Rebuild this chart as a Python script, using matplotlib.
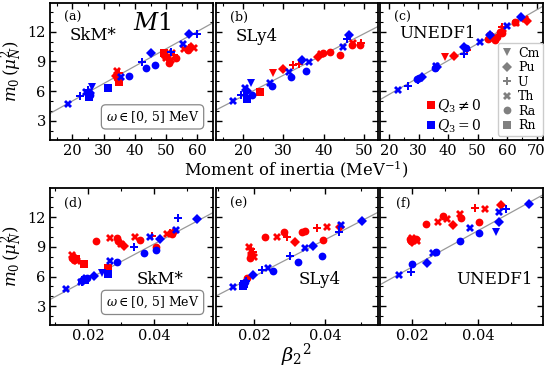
import matplotlib
matplotlib.use('Agg')
import matplotlib.pyplot as plt
from matplotlib.lines import Line2D
from matplotlib.ticker import MultipleLocator

plt.rcParams['font.family'] = ['DejaVu Serif']
plt.rcParams['mathtext.fontset'] = 'dejavuserif'

SPECIES = ['Cm', 'Pu', 'U', 'Th', 'Ra', 'Rn']
MARKERS = {'Cm': 'v', 'Pu': 'D', 'U': 'P', 'Th': 'X', 'Ra': 'o', 'Rn': 's'}
COL_OCT = '#ff0000'
COL_NOOCT = '#0000ff'

# ---------------- (a) SkM*, moment of inertia ----------------
a_x = [18.7, 22.5, 24.4, 24.9, 26.3, 25.5, 25.2, 25.7, 31.4, 35.6, 38.1, 42.2, 43.7, 45.1, 46.3, 51.5, 55.3, 57.4, 59.9,
       34.3, 34.8, 33.8, 34.3, 34.8, 33.8, 49.4, 49.9, 49.4, 51.0, 51.5, 50.4, 52.6, 53.1, 52.0, 55.8, 57.4, 58.8, 56.9, 58.1]
a_y = [4.65, 5.5, 5.93, 6.1, 6.44, 5.6, 5.43, 5.83, 6.34, 7.38, 7.52, 8.9, 8.3, 9.8, 8.63, 9.98, 10.72, 11.76, 11.76,
       8.06, 7.8, 7.5, 7.3, 6.94, 7.2, 9.64, 9.3, 9.8, 8.8, 9.14, 9.47, 9.64, 9.3, 9.87, 10.2, 10.3, 10.3, 10.15, 10.5]
a_sp = ['Th', 'U', 'Th', 'U', 'Cm', 'Ra', 'Rn', 'Pu', 'Rn', 'Th', 'Ra', 'U', 'Ra', 'Pu', 'Ra', 'U', 'Th', 'Pu', 'U',
        'Th', 'U', 'Pu', 'Ra', 'Rn', 'Cm', 'Ra', 'Th', 'Rn', 'Ra', 'Th', 'Pu', 'U', 'Ra', 'Th', 'Th', 'U', 'Th', 'Ra', 'Pu']
a_q3 = [0] * 19 + [1] * 20

# ---------------- (b) SLy4, moment of inertia ----------------
b_x = [17.5, 19.4, 20.6, 21.9, 21.0, 22.3, 21.0, 20.2, 26.6, 27.2, 31.3, 31.9, 34.6, 35.6, 36.5, 44.7, 45.9, 46.4,
       24.1, 27.5, 29.9, 32.4, 33.8, 38.7, 39.8, 39.3, 41.6, 44.1, 47.0, 47.4, 49.2, 49.0]
b_y = [5.02, 5.6, 6.27, 6.78, 6.03, 5.6, 5.16, 5.6, 6.84, 6.5, 7.96, 7.45, 9.14, 8.06, 8.9, 10.48, 11.22, 11.66,
       5.87, 7.79, 8.19, 8.63, 8.7, 9.47, 9.81, 9.7, 9.91, 9.64, 10.65, 10.89, 10.89, 10.65]
b_sp = ['Th', 'U', 'Th', 'Cm', 'Pu', 'Ra', 'Rn', 'U', 'Th', 'Ra', 'Th', 'Ra', 'Pu', 'Ra', 'Th', 'Th', 'U', 'Pu',
        'Rn', 'Cm', 'Pu', 'U', 'U', 'Pu', 'Ra', 'Th', 'Ra', 'Ra', 'Ra', 'Th', 'U', 'Ra']
b_q3 = [0] * 18 + [1] * 14

# ---------------- (c) UNEDF1, moment of inertia ----------------
c_x = [22.9, 26.5, 29.4, 30.3, 31.1, 29.9, 35.6, 36.2, 35.9, 45.5, 46.1, 45.5, 50.8, 54.2, 59.9, 64.7,
       39.0, 42.1, 46.3, 53.7, 54.9, 55.9, 54.4, 56.6, 57.6, 58.5, 58.2, 58.2, 62.7, 63.2, 66.7, 66.1]
c_y = [6.1, 6.5, 7.21, 7.28, 7.38, 7.1, 8.3, 8.46, 8.53, 10.48, 10.3, 9.74, 10.92, 11.66, 12.6, 13.45,
       9.4, 9.57, 10.15, 11.22, 11.43, 11.16, 11.56, 11.5, 12.0, 12.24, 11.83, 12.5, 13.0, 12.84, 13.1, 13.25]
c_sp = ['Th', 'U', 'Ra', 'Ra', 'Pu', 'U', 'Ra', 'Pu', 'Th', 'Pu', 'Ra', 'U', 'Th', 'Pu', 'Th', 'Pu',
        'Cm', 'Pu', 'U', 'Ra', 'Pu', 'Ra', 'Th', 'Ra', 'Ra', 'Th', 'Ra', 'U', 'Ra', 'Th', 'Pu', 'Th']
c_q3 = [0] * 16 + [1] * 16

# ---------------- (d) SkM*, beta2^2 ----------------
d_x = [0.0134, 0.0182, 0.0180, 0.0189, 0.0196, 0.0192, 0.0217, 0.0243, 0.0260, 0.0267, 0.0287, 0.0338, 0.0368,
       0.0386, 0.0417, 0.0405, 0.0464, 0.0472, 0.0528,
       0.0152, 0.0156, 0.0158, 0.0160, 0.0165, 0.0150, 0.0162, 0.0189, 0.0225, 0.0260, 0.0265, 0.0287, 0.0289,
       0.0308, 0.0300, 0.0341, 0.0356, 0.0393, 0.0405, 0.0437, 0.0448, 0.0458, 0.0452]
d_y = [4.70, 5.48, 5.40, 5.72, 5.90, 5.60, 6.06, 6.40, 6.30, 7.52, 7.49, 8.95, 8.33,
       10.03, 9.80, 8.65, 10.75, 11.90, 11.83,
       8.20, 8.00, 7.70, 7.85, 7.60, 7.90, 7.75, 7.22, 9.56, 6.90, 9.86, 9.85, 9.56,
       9.10, 9.30, 10.03, 9.69, 10.10, 9.00, 10.35, 10.45, 10.50, 10.30]
d_sp = ['Th', 'U', 'Th', 'Pu', 'Ra', 'Rn', 'Pu', 'Cm', 'Rn', 'Th', 'Ra', 'U', 'Ra',
        'Th', 'Pu', 'Ra', 'Th', 'U', 'Pu',
        'Th', 'U', 'Ra', 'Pu', 'Th', 'Ra', 'Rn', 'Rn', 'Ra', 'Rn', 'Th', 'Ra', 'Ra',
        'Pu', 'Th', 'Th', 'Ra', 'U', 'Ra', 'Th', 'U', 'Pu', 'Ra']
d_q3 = [0] * 19 + [1] * 23

# ---------------- (e) SLy4, beta2^2 ----------------
e_x = [0.0141, 0.0172, 0.0170, 0.0177, 0.0175, 0.0198, 0.0223, 0.0239, 0.0253, 0.0300, 0.0323, 0.0344, 0.0365,
       0.0391, 0.0439, 0.0444, 0.0503,
       0.0181, 0.0185, 0.0192, 0.0190, 0.0195, 0.0188, 0.0198, 0.0200, 0.0230, 0.0263, 0.0293, 0.0284, 0.0314,
       0.0335, 0.0344, 0.0377, 0.0405, 0.0393, 0.0442]
e_y = [4.97, 5.21, 5.00, 5.55, 5.40, 6.16, 6.64, 6.84, 6.57, 8.10, 7.42, 8.88, 9.10,
       8.10, 10.47, 11.25, 11.66,
       5.82, 9.00, 8.80, 8.60, 8.20, 7.90, 8.50, 8.00, 9.96, 9.96, 9.96, 10.54, 9.45,
       10.50, 10.60, 10.88, 10.98, 9.69, 11.05]
e_sp = ['Th', 'Rn', 'Rn', 'U', 'Ra', 'Pu', 'U', 'Th', 'Ra', 'U', 'Ra', 'Th', 'Pu',
        'Ra', 'U', 'Th', 'Pu',
        'Ra', 'Th', 'U', 'Th', 'Pu', 'Ra', 'U', 'Th', 'Ra', 'Th', 'U', 'Ra', 'Pu',
        'Ra', 'Ra', 'U', 'Th', 'Ra', 'Pu']
e_q3 = [0] * 17 + [1] * 19

# ---------------- (f) UNEDF1, beta2^2 ----------------
f_x = [0.0159, 0.0197, 0.0200, 0.0246, 0.0264, 0.0271, 0.0344, 0.0374, 0.0404, 0.0455, 0.0462, 0.0464, 0.0484, 0.0556,
       0.0195, 0.0200, 0.0205, 0.0198, 0.0210, 0.0215, 0.0192, 0.0241, 0.0277, 0.0294, 0.0304, 0.0325, 0.0344,
       0.0348, 0.0392, 0.0421, 0.0402, 0.0469]
f_y = [6.13, 6.50, 7.25, 7.32, 8.37, 8.50, 9.62, 10.91, 10.40, 10.47, 11.56, 12.50, 12.83, 13.36,
       9.60, 9.90, 9.75, 9.50, 9.80, 9.60, 9.80, 11.32, 11.56, 12.10, 11.83, 11.22, 12.37,
       11.93, 12.95, 12.87, 11.56, 13.19]
f_sp = ['Th', 'U', 'Ra', 'Pu', 'Th', 'Ra', 'Ra', 'Th', 'Ra', 'Cm', 'Pu', 'Th', 'U', 'Pu',
        'Ra', 'Th', 'U', 'Pu', 'Ra', 'Th', 'Ra', 'Ra', 'Th', 'Ra', 'Th', 'Pu', 'Th',
        'Ra', 'U', 'Th', 'Ra', 'Pu']
f_q3 = [0] * 14 + [1] * 18

# linear fits drawn in each panel (slope, intercept)
fit_slope = [0.1756, 0.210, 0.171, 178.5, 186.0, 183.6]
fit_icpt = [1.49, 1.29, 2.23, 2.16, 2.30, 3.30]

panel_tags = ['(a)', '(b)', '(c)', '(d)', '(e)', '(f)']
functionals = ['SkM*', 'SLy4', 'UNEDF1']
xlims = [(12.8, 65.0), (13.3, 53.5), (16.95, 72.2), (0.0085, 0.0577), (0.0093, 0.0548), (0.0102, 0.0597)]
ylim = (1.1, 14.95)

data = [(a_x, a_y, a_sp, a_q3), (b_x, b_y, b_sp, b_q3), (c_x, c_y, c_sp, c_q3),
        (d_x, d_y, d_sp, d_q3), (e_x, e_y, e_sp, e_q3), (f_x, f_y, f_sp, f_q3)]

W, H = 556, 371
fig = plt.figure(figsize=(W / 100, H / 100), dpi=100)
cols_px = [(50, 213), (216, 378), (380, 543)]
rows_px = [(2.5, 139.5), (188, 325)]

axes = []
for r in range(2):
    for c in range(3):
        x0, x1 = cols_px[c]
        yt, yb = rows_px[r]
        ax = fig.add_axes([x0 / W, 1 - yb / H, (x1 - x0) / W, (yb - yt) / H])
        axes.append(ax)

ms = {'v': 5.6, 'D': 5.0, 'P': 6.2, 'X': 6.2, 'o': 5.6, 's': 5.3}

for i, ax in enumerate(axes):
    xs, ys, sps, qs = data[i]
    for oct_flag, col in [(1, COL_OCT), (0, COL_NOOCT)]:
        for sp in SPECIES:
            px = [x for x, s, q in zip(xs, sps, qs) if s == sp and q == oct_flag]
            py = [y for y, s, q in zip(ys, sps, qs) if s == sp and q == oct_flag]
            if px:
                m = MARKERS[sp]
                ax.plot(px, py, ls='none', marker=m, color=col, ms=ms[m], mew=0, zorder=3)
    ax.axline((0, fit_icpt[i]), slope=fit_slope[i], color='#999999', lw=0.9, zorder=2)
    ax.set_xlim(*xlims[i])
    ax.set_ylim(*ylim)
    ax.yaxis.set_major_locator(MultipleLocator(3))
    ax.yaxis.set_minor_locator(MultipleLocator(1))
    if i < 3:
        ax.xaxis.set_major_locator(MultipleLocator(10))
        ax.xaxis.set_minor_locator(MultipleLocator(5))
    else:
        ax.xaxis.set_major_locator(MultipleLocator(0.02))
        ax.xaxis.set_minor_locator(MultipleLocator(0.01))
    ax.tick_params(which='both', direction='in', top=True, right=True, labelsize=10.5, pad=3.0)
    ax.tick_params(which='major', length=4, width=1.0)
    ax.tick_params(which='minor', length=2.2, width=0.8)
    for sp in ax.spines.values():
        sp.set_linewidth(1.3)
    if i % 3 != 0:
        ax.tick_params(labelleft=False)
    else:
        ax.set_ylabel(r'$m_0\,(\mu_N^2)$', fontsize=12)
        ax.yaxis.set_label_coords(-0.152, 0.5)
    ax.text(0.14, 0.89 if i < 3 else 0.885, panel_tags[i], transform=ax.transAxes,
            ha='center', va='center', fontsize=9)

# functional names
top_pos = [(0.12, 0.76), (0.12, 0.75), (0.12, 0.775)]
bot_pos = [(0.675, 0.33), (0.64, 0.33), (0.705, 0.33)]
for c in range(3):
    axes[c].text(top_pos[c][0], top_pos[c][1], functionals[c], transform=axes[c].transAxes,
                 ha='left', va='center', fontsize=12)
    axes[c + 3].text(bot_pos[c][0], bot_pos[c][1], functionals[c], transform=axes[c + 3].transAxes,
                     ha='center', va='center', fontsize=12)

axes[0].text(0.626, 0.85, r'$M1$', transform=axes[0].transAxes, ha='center', va='center', fontsize=17)

for ax in (axes[0], axes[3]):
    ax.text(0.629, 0.165, r'$\omega\in[0,\,5]$ MeV', transform=ax.transAxes, ha='center', va='center',
            fontsize=9, bbox=dict(boxstyle='round,pad=0.35', fc='white', ec='#888888', lw=0.9), zorder=5)

# legends in (c)
sh = [Line2D([], [], ls='none', marker=MARKERS[s], color='gray', ms=ms[MARKERS[s]], mew=0, label=s) for s in SPECIES]
leg1 = axes[2].legend(handles=sh, loc='center right', bbox_to_anchor=(1.0, 0.365), borderaxespad=0,
                      fontsize=9, handlelength=0.8, handletextpad=0.5, labelspacing=0.12, borderpad=0.3,
                      frameon=True, fancybox=True, framealpha=1, edgecolor='#cccccc')
axes[2].add_artist(leg1)
ch = [Line2D([], [], ls='none', marker='s', color=COL_OCT, ms=5.5, mew=0, label=r'$Q_3\neq0$'),
      Line2D([], [], ls='none', marker='s', color=COL_NOOCT, ms=5.5, mew=0, label=r'$Q_3=0$')]
axes[2].legend(handles=ch, loc='center left', bbox_to_anchor=(0.288, 0.172), borderaxespad=0, frameon=False,
               fontsize=10, handlelength=0.6, handletextpad=0.15, labelspacing=0.25, borderpad=0)

fig.text(296.5 / W, 1 - 169 / H, r'Moment of inertia (MeV$^{-1}$)', ha='center', va='center', fontsize=11.8)
fig.text(296.5 / W, 1 - 355 / H, r'$\beta_2{}^2$', ha='center', va='center', fontsize=14)

fig.savefig('out.png', dpi=100)
